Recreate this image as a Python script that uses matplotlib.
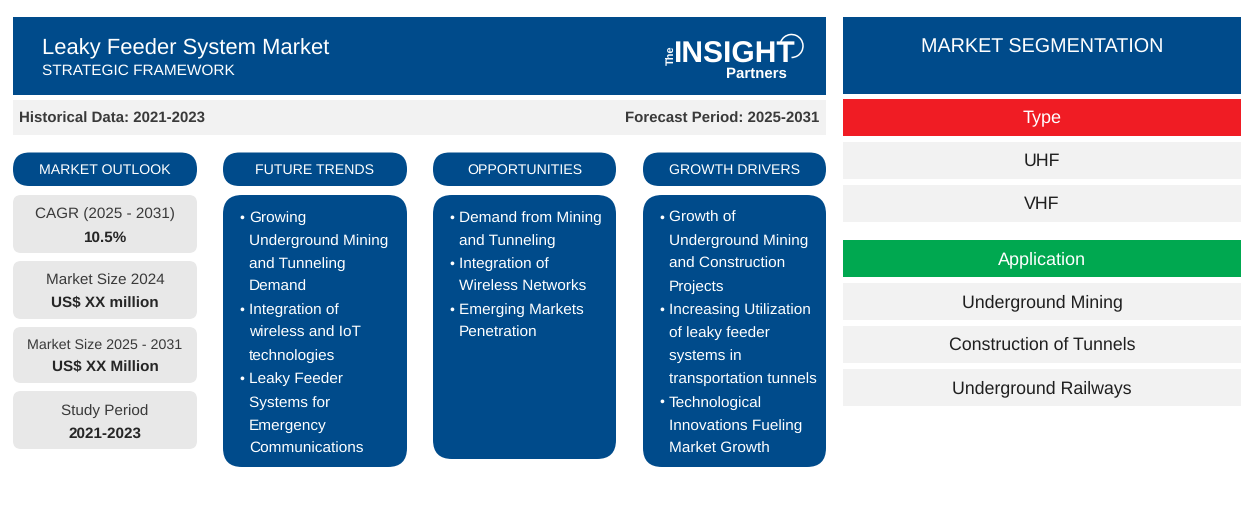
import matplotlib
matplotlib.use("Agg")
import matplotlib.pyplot as plt
from matplotlib.patches import FancyBboxPatch, Rectangle, Arc

plt.rcParams['font.family'] = ['Liberation Sans', 'DejaVu Sans']
plt.rcParams['text.hinting'] = 'no_hinting'

W, H = 1254, 530
BLUE = '#004b8b'
GRAY = '#e8e8e8'
LIGHT = '#f2f2f2'
RED = '#f01c24'
GREEN = '#00a850'
DARK = '#3a3a3a'

title = 'Leaky Feeder System Market'
subtitle = 'STRATEGIC FRAMEWORK'
historical = 'Historical Data: 2021-2023'
forecast = 'Forecast Period: 2025-2031'
columns = ['MARKET OUTLOOK', 'FUTURE TRENDS', 'OPPORTUNITIES', 'GROWTH DRIVERS']
outlook_labels = ['CAGR (2025 - 2031)', 'Market Size 2024', 'Market Size 2025 - 2031', 'Study Period']
outlook_values = ['10.5%', 'US$ XX million', 'US$ XX Million', '2021-2023']
trends = [['Growing', 'Underground Mining', 'and Tunneling', 'Demand'],
          ['Integration of', 'wireless and IoT', 'technologies'],
          ['Leaky Feeder', 'Systems for', 'Emergency', 'Communications']]
opportunities = [['Demand from Mining', 'and Tunneling'],
                 ['Integration of', 'Wireless Networks'],
                 ['Emerging Markets', 'Penetration']]
drivers = [['Growth of', 'Underground Mining', 'and Construction', 'Projects'],
           ['Increasing Utilization', 'of leaky feeder', 'systems in', 'transportation tunnels'],
           ['Technological', 'Innovations Fueling', 'Market Growth']]
seg_title = 'MARKET SEGMENTATION'
seg_groups = ['Type', 'Application']
seg_items = [['UHF', 'VHF'], ['Underground Mining', 'Construction of Tunnels', 'Underground Railways']]

fig = plt.figure(figsize=(W / 100, H / 100), dpi=100, facecolor='white')
ax = fig.add_axes([0, 0, 1, 1])
ax.set_xlim(0, W)
ax.set_ylim(H, 0)
ax.axis('off')


def fs(px):
    return px * 0.72


def rect(x0, y0, x1, y1, color):
    ax.add_patch(Rectangle((x0, y0), x1 - x0, y1 - y0, fc=color, ec='none'))


def rrect(x0, y0, x1, y1, r, color):
    ax.add_patch(FancyBboxPatch((x0 + r, y0 + r), x1 - x0 - 2 * r, y1 - y0 - 2 * r,
                                boxstyle=f'round,pad={r},rounding_size={r}', fc=color, ec='none'))


def text(x, y, s, px, color='white', ha='center', weight='normal', family=None):
    ax.text(x, y, s, fontsize=fs(px), color=color, ha=ha, va='center', fontweight=weight,
            family=family if family else ['Liberation Sans', 'DejaVu Sans'])


# Header
rect(13, 17, 826, 95, BLUE)
text(42, 49, title, 22, ha='left')
text(42, 70.5, subtitle, 15.35, ha='left')

# Logo
ax.text(672, 55, 'The', fontsize=fs(11), color='white', rotation=90, ha='center', va='center', fontweight='bold')
text(735, 54.5, 'INSIGHT', 30, weight='bold', family=['Liberation Sans Narrow', 'Liberation Sans'])
text(756, 73.5, 'Partners', 15, weight='bold')
ax.add_patch(Arc((791.5, 46), 23, 23, theta1=200, theta2=450, ec='white', lw=1.1))

# Period bar
rect(13, 100, 826, 135, LIGHT)
text(19, 118.5, historical, 15, color=DARK, ha='left', weight='bold')
text(819, 118.5, forecast, 15, color=DARK, ha='right', weight='bold')

# Column pills
col_x = [(13, 197), (223, 407), (433, 616), (643, 826)]
for (x0, x1), name in zip(col_x, columns):
    rrect(x0, 152.5, x1, 186, 16.5, BLUE)
    text((x0 + x1) / 2, 170.5, name, 14.1)

# Outlook cards
cards = [(195, 253, 214.5, 237.5, 15.3), (261, 319, 280.5, 303.5, 15.3),
         (327, 383, 345.5, 367.5, 14.2), (391, 449, 411, 433.5, 15.3)]
for (y0, y1, ly, vy, px), lab, val in zip(cards, outlook_labels, outlook_values):
    rrect(13, y0, 197, y1, 8, GRAY)
    text(105, ly, lab, px, color=DARK)
    text(105, vy, val, 15.2, color='#262626', weight='bold')

# Bullet panels
panels = [(223, 407, 467, trends), (433, 616, 459, opportunities), (643, 826, 467, drivers)]
for x0, x1, y1, groups in panels:
    rrect(x0, 195, x1, y1, 19, BLUE)
    y = 217.8
    for group in groups:
        ax.text(x0 + 19, y, '•', fontsize=fs(14), color='white', ha='center', va='center')
        for line in group:
            text(x0 + 26, y, line, 15.4, ha='left')
            y += 23.1

# Segmentation
rect(843, 17, 1241, 94, BLUE)
text(1042, 48, seg_title, 19.8)
cx = 1042
y = 99
for group, color, items, gap in zip(seg_groups, [RED, GREEN], seg_items, [18, 0]):
    rect(843, y, 1241, y + 37, color)
    text(cx, y + 20, group, 18)
    y += 43
    for it in items:
        rect(843, y, 1241, y + 37, LIGHT)
        text(cx, y + 19.5, it, 17.8, color='#1f1f1f')
        y += 43
    y += gap - 6

fig.savefig('out.png', dpi=100, facecolor='white')
